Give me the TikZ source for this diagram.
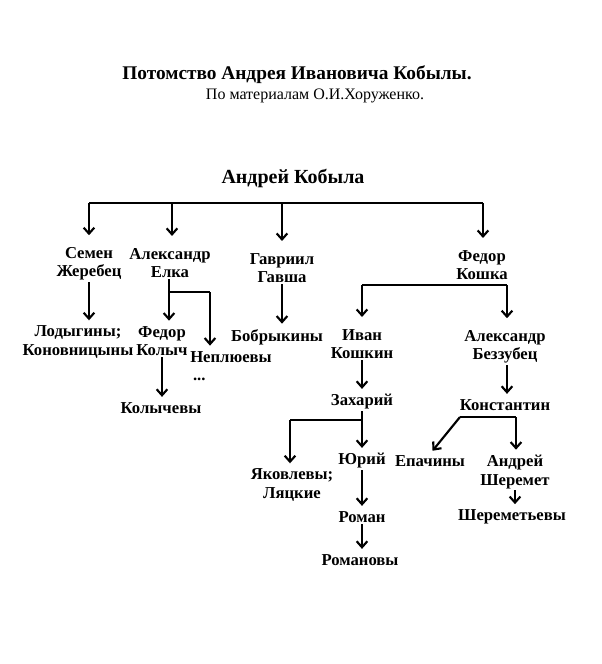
\documentclass[tikz,border=0pt]{standalone}
\usepackage{fontspec}
\setmainfont{Liberation Serif}
\usetikzlibrary{arrows.meta}

\begin{document}
\begin{tikzpicture}[x=0.75pt, y=-0.75pt,
    person/.style={font=\fontsize{12.5}{13.8}\selectfont\bfseries, align=center, inner sep=1pt},
    bar/.style={line width=1.2pt},
    arr/.style={line width=1.6pt, -{Straight Barb[length=4.5pt, width=8pt]}, shorten >=3pt},
    toparr/.style={arr, shorten >=8pt}]
    \useasboundingbox (0,0) rectangle (602,664);
    % headings
    \node[font=\fontsize{14.5}{16}\selectfont\bfseries] (title) at (297,75) {Потомство Андрея Ивановича Кобылы.};
    \node[font=\fontsize{12}{14}\selectfont] (source) at (315,96) {По материалам О.И.Хоруженко.};
    \node[font=\fontsize{15}{17}\selectfont\bfseries] (kobyla) at (293,178) {Андрей Кобыла};
    % sons
    \node[person] (semen) at (89,264) {Семен\\Жеребец};
    \node[person] (elka) at (170,263) {Александр\\Елка};
    \node[person] (gavsha) at (282,268) {Гавриил\\Гавша};
    \node[person] (koshka) at (482,265) {Федор\\Кошка};
    % next generations
    \node[person] (lodyg) at (78,342) {Лодыгины;\\Коновницыны};
    \node[person] (kolych) at (162,341) {Федор\\Колыч};
    \node[person, align=left] (neplyu) at (231,366) {Неплюевы\\\,...};
    \node[person] (kolychevy) at (161,408) {Колычевы};
    \node[person] (bobr) at (277,337) {Бобрыкины};
    \node[person] (ivan) at (362,344) {Иван\\Кошкин};
    \node[person] (bezz) at (505,347) {Александр\\Беззубец};
    \node[person] (zahar) at (362,402) {Захарий};
    \node[person] (konst) at (505,405) {Константин};
    \node[person] (yakov) at (292,485) {Яковлевы;\\Ляцкие};
    \node[person] (yuri) at (362,461) {Юрий};
    \node[person] (epach) at (430,461) {Епачины};
    \node[person] (sherem) at (515,472) {Андрей\\Шеремет};
    \node[person] (roman) at (362,517) {Роман};
    \node[person] (romanovy) at (360,560) {Романовы};
    \node[person] (sheremety) at (512,517) {Шереметьевы};
    % bars
    \coordinate (b1) at (89,203); \coordinate (b2) at (172,203);
    \coordinate (b3) at (282,203); \coordinate (b4) at (483,203);
    \coordinate (e1) at (169,292); \coordinate (e2) at (210,292);
    \coordinate (k1) at (362,285); \coordinate (k2) at (507,285);
    \coordinate (z1) at (290,420); \coordinate (z2) at (362,420);
    \coordinate (c1) at (460,417); \coordinate (c2) at (516,417);
    \draw[bar] (b1) -- (b4);
    \draw[bar] (e1) -- (e2);
    \draw[bar] (k1) -- (k2);
    \draw[bar] (z1) -- (z2);
    \draw[bar] (c1) -- (c2);
    % arrows
    \draw[toparr] (b1) -- (b1 |- semen.north);
    \draw[toparr] (b2) -- (b2 |- elka.north);
    \draw[toparr] (b3) -- (b3 |- gavsha.north);
    \draw[toparr] (b4) -- (b4 |- koshka.north);
    \draw[arr] (semen.south) -- (semen.south |- lodyg.north);
    \draw[arr] (e1 |- elka.south) -- (e1 |- kolych.north);
    \draw[arr] (e2) -- (e2 |- neplyu.north);
    \draw[arr] (kolych.south) -- (kolych.south |- kolychevy.north);
    \draw[arr] (gavsha.south) -- (gavsha.south |- bobr.north);
    \draw[toparr] (k1) -- (k1 |- ivan.north);
    \draw[toparr] (k2) -- (k2 |- bezz.north);
    \draw[arr] (ivan.south) -- (ivan.south |- zahar.north);
    \draw[arr] (k2 |- bezz.south) -- (k2 |- konst.north);
    \draw[arr] (zahar.south) -- (yuri.north);
    \draw[arr] (z1) -- (z1 |- yakov.north);
    \draw[arr] (c1) -- (epach.north);
    \draw[arr] (c2) -- (c2 |- sherem.north);
    \draw[arr] (yuri.south) -- (roman.north);
    \draw[arr] (roman.south) -- (roman.south |- romanovy.north);
    \draw[arr] (sherem.south) -- (sherem.south |- sheremety.north);
\end{tikzpicture}
\end{document}
